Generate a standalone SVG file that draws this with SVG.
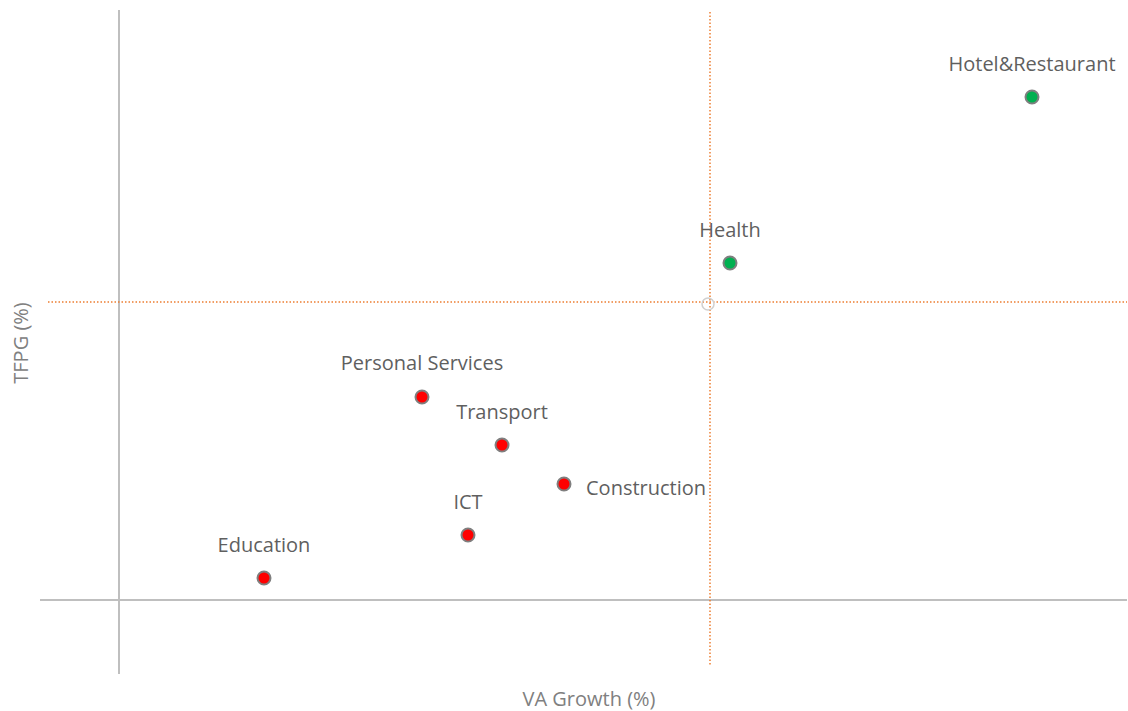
<svg xmlns="http://www.w3.org/2000/svg" width="1128" height="711" viewBox="0 0 1128 711">
<style>
.axis{stroke:#bfbfbf;stroke-width:2;fill:none}
.ref{stroke:#ed7d31;stroke-width:1.5;stroke-dasharray:1.5 2;fill:none}
.lbl{font-family:"Open Sans","Liberation Sans",sans-serif;font-size:20px;fill:#5f5f5f}
.red{fill:#ff0000;stroke:#7f7f7f;stroke-width:2}
.green{fill:#00b050;stroke:#7f7f7f;stroke-width:2}
.ttl{font-family:"Open Sans","Liberation Sans",sans-serif;font-size:20px;fill:#808080}
</style>
<rect width="1128" height="711" fill="#ffffff"/>
<g id="axes">
<line class="axis" x1="119" y1="10" x2="119" y2="674"/>
<line class="axis" x1="40" y1="600" x2="1127" y2="600"/>
</g>
<g id="reference-lines">
<line class="ref" x1="710" y1="12" x2="710" y2="666"/>
<line class="ref" x1="48" y1="302" x2="1127" y2="302"/>
<circle cx="708" cy="304" r="6" fill="none" stroke="#d0d0d0" stroke-width="1.5"/>
</g>
<g id="hotel-restaurant"><circle class="green" cx="1032" cy="97" r="6.5"/><text class="lbl" x="1032" y="71" text-anchor="middle">Hotel&amp;Restaurant</text></g>
<g id="health"><circle class="green" cx="730" cy="263" r="6.5"/><text class="lbl" x="730" y="237" text-anchor="middle">Health</text></g>
<g id="personal-services"><circle class="red" cx="422" cy="397" r="6.5"/><text class="lbl" x="422" y="370" text-anchor="middle">Personal Services</text></g>
<g id="transport"><circle class="red" cx="502" cy="445" r="6.5"/><text class="lbl" x="502" y="419" text-anchor="middle">Transport</text></g>
<g id="construction"><circle class="red" cx="564" cy="484" r="6.5"/><text class="lbl" x="586" y="495">Construction</text></g>
<g id="ict"><circle class="red" cx="468" cy="535" r="6.5"/><text class="lbl" x="468" y="509" text-anchor="middle">ICT</text></g>
<g id="education"><circle class="red" cx="264" cy="578" r="6.5"/><text class="lbl" x="264" y="552" text-anchor="middle">Education</text></g>
<g id="axis-titles">
<text class="ttl" x="589" y="706" text-anchor="middle">VA Growth (%)</text>
<text class="ttl" x="0" y="0" text-anchor="middle" transform="translate(28,343) rotate(-90)">TFPG (%)</text>
</g>
</svg>
